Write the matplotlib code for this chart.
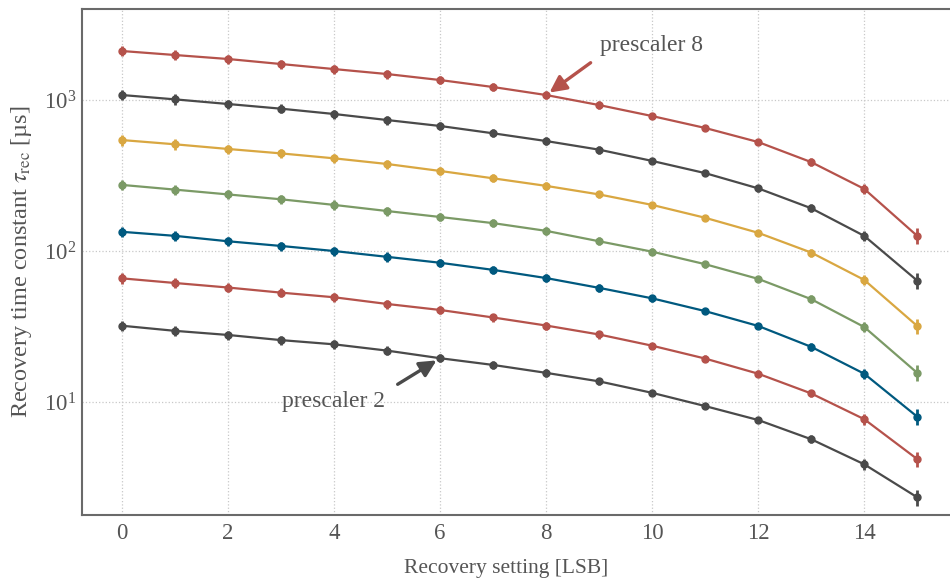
import numpy as np
import matplotlib
matplotlib.use("Agg")
import matplotlib.pyplot as plt

#%% Datos: tau_rec vs recovery setting, una curva por prescaler
settings = list(range(16))

tau_p8 = [2111, 1986, 1869, 1731, 1603, 1486, 1356, 1219, 1079, 926, 783, 653, 527, 388, 258, 126]
tau_p7 = [1079, 1010, 941, 876, 808, 737, 673, 602, 535, 469, 395, 328, 260, 192, 126, 63.7]
tau_p6 = [543, 509, 474, 443, 411, 377, 339, 303, 270, 237, 202, 166, 132, 97.7, 64.4, 31.9]
tau_p5 = [274, 255, 237, 220, 202, 184, 168, 153, 136, 116, 99, 81.8, 65.4, 48, 31.4, 15.6]
tau_p4 = [134, 126, 116, 108, 100, 91.5, 83.6, 75, 66.2, 57, 48.6, 40, 31.9, 23.2, 15.4, 8.0]
tau_p3 = [65.9, 61.4, 57.3, 53, 49.4, 44.6, 40.7, 36.3, 32.1, 28.0, 23.6, 19.4, 15.4, 11.4, 7.7, 4.19]
tau_p2 = [32.0, 29.6, 27.8, 25.7, 24.1, 21.9, 19.5, 17.6, 15.6, 13.7, 11.5, 9.4, 7.6, 5.67, 3.87, 2.34]

# error relativo de cada punto
rel_err = [0.08, 0.08, 0.07, 0.07, 0.07, 0.07, 0.06, 0.06, 0.06, 0.06, 0.05, 0.05, 0.05, 0.06, 0.08, 0.12]

series = [tau_p8, tau_p7, tau_p6, tau_p5, tau_p4, tau_p3, tau_p2]
colores = ["#b5524b", "#4a4a4a", "#d9a741", "#7b9a66", "#00597f", "#b5524b", "#4a4a4a"]

gris = "#555555"
plt.rcParams["font.family"] = ["Liberation Serif", "DejaVu Serif"]
plt.rcParams["mathtext.fontset"] = "stix"
plt.rcParams["text.color"] = gris
plt.rcParams["axes.labelcolor"] = gris
plt.rcParams["xtick.color"] = gris
plt.rcParams["ytick.color"] = gris

#%% Grafico
fig = plt.figure(figsize=(9.5, 5.82), dpi=100)
ax = fig.add_axes([0.0863, 0.1151, 0.921, 0.8694])

x = np.asarray(settings)
for tau, c in zip(series, colores):
    tau = np.asarray(tau)
    err = tau * np.asarray(rel_err)
    ax.errorbar(x, tau, yerr=err, fmt="o-", color=c, ms=5, lw=1.6,
                elinewidth=2.0, capsize=0, zorder=3)

ax.set_yscale("log")
ax.set_xlim(-0.755, 15.75)
ax.set_ylim(1.785, 4005)
ax.set_xticks(range(0, 16, 2))
ax.minorticks_off()
ax.tick_params(axis="both", length=0, labelsize=16.5)
ax.tick_params(axis="x", pad=6)
ax.tick_params(axis="y", pad=4)

ax.grid(True, which="major", color="#c8c8c8", ls=":", lw=0.9)
for s in ["left", "bottom", "top", "right"]:
    ax.spines[s].set_color("#6a6a6a")
    ax.spines[s].set_linewidth(1.5)

ax.set_xlabel("Recovery setting [LSB]", fontsize=15.5)
ax.set_ylabel(r"Recovery time constant $\tau_\mathrm{rec}$ [µs]", fontsize=17.5)
ax.xaxis.set_label_coords(0.485, -0.086)
ax.yaxis.set_label_coords(-0.055, 0.5)

# flechas con los prescalers
ax.annotate("", xy=(8, tau_p8[8]), xytext=(8.84, 1766),
            arrowprops=dict(arrowstyle="-|>", color=colores[0], lw=2.4,
                            mutation_scale=25, shrinkA=0, shrinkB=3))
ax.text(9.02, 2121, "prescaler 8", fontsize=17, va="baseline", ha="left")

ax.annotate("", xy=(6, tau_p2[6]), xytext=(5.20, 13.1),
            arrowprops=dict(arrowstyle="-|>", color=colores[6], lw=2.4,
                            mutation_scale=25, shrinkA=0, shrinkB=3))
ax.text(3.01, 9.27, "prescaler 2", fontsize=17, va="baseline", ha="left")

fig.savefig("out.png", dpi=100)
